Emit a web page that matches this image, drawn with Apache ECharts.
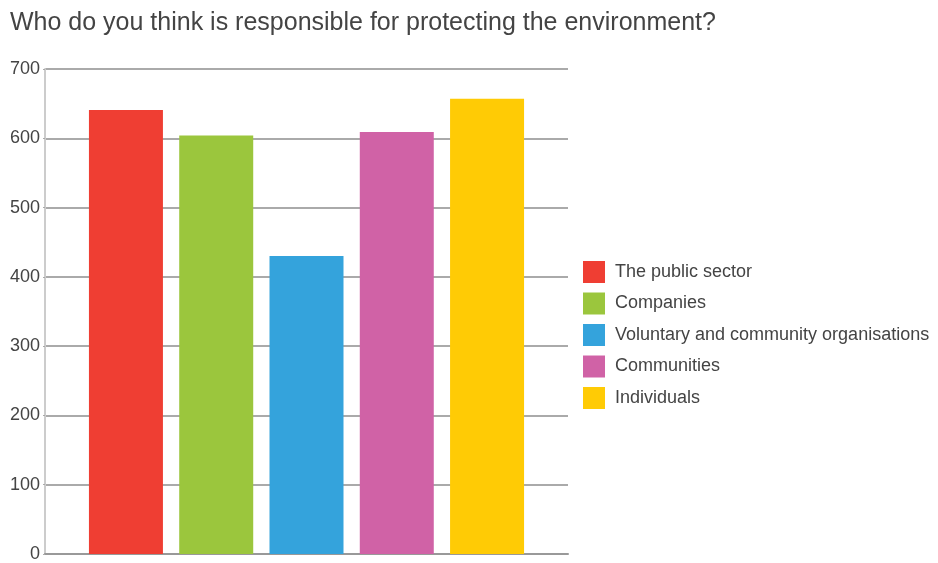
<!DOCTYPE html>
<html><head><meta charset="utf-8">
<script src="https://cdn.jsdelivr.net/npm/echarts@6/dist/echarts.min.js"></script>
<style>html,body{margin:0;padding:0;background:#fff}#c{width:938px;height:563px}</style>
</head><body><div id="c"></div>
<script>
const title = 'Who do you think is responsible for protecting the environment?';
const seriesNames = ['The public sector','Companies','Voluntary and community organisations','Communities','Individuals'];
const values = [641, 604, 430, 609, 657];
const colors = ['#ef3e33','#9bc63d','#34a3dc','#d062a6','#ffcb05'];
const yTicks = {min:0, max:700, interval:100};
const font = '"Liberation Sans", Arial, sans-serif';

const chart = echarts.init(document.getElementById('c'));
chart.setOption({
  animation:false,
  title:{text:title,left:5,top:6,textStyle:{fontFamily:font,fontSize:25,fontWeight:'normal',color:'#444'}},
  legend:{orient:'vertical',left:578,top:256,itemWidth:22,itemHeight:22,itemGap:9.5,icon:'rect',
    textStyle:{fontFamily:font,fontSize:18,color:'#444',padding:[0,0,0,5]},
    data:seriesNames},
  grid:{left:45,right:370,top:69,bottom:6,containLabel:false},
  xAxis:{type:'category',data:[''],axisLine:{lineStyle:{color:'#999',width:2}},axisTick:{show:false},axisLabel:{show:false}},
  yAxis:{type:'value',min:yTicks.min,max:yTicks.max,interval:yTicks.interval,
    axisLine:{show:true,lineStyle:{color:'#ccc',width:2}},
    axisTick:{show:true,length:2,lineStyle:{color:'#aaa'}},
    axisLabel:{fontFamily:font,fontSize:18,color:'#444',margin:5},
    splitLine:{lineStyle:{color:'#aaa',width:2}}},
  series: seriesNames.map((n,i)=>({name:n,type:'bar',data:[values[i]],barWidth:74,barGap:'22%',itemStyle:{color:colors[i]}}))
});
</script></body></html>
